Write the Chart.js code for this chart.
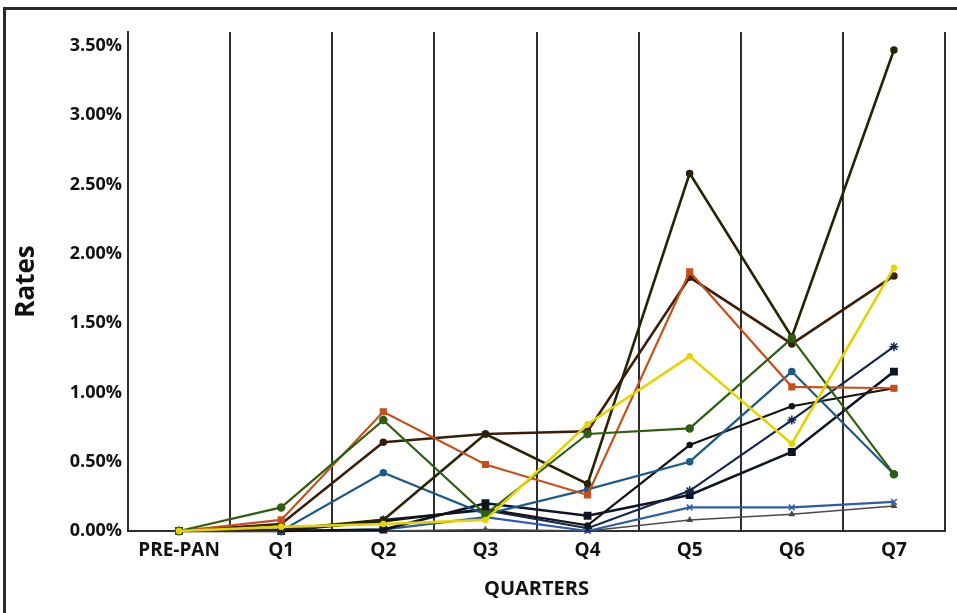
<!DOCTYPE html>
<html>
<head>
<meta charset="utf-8">
<script src="https://cdn.jsdelivr.net/npm/chart.js@4.4.1/dist/chart.umd.min.js"></script>
<style>
  html, body { margin: 0; padding: 0; background: #fff; overflow: hidden; }
  #frame { position: absolute; left: 3px; top: 7px; width: 1000px; height: 700px; border: 3px solid #2a2a2a; }
  #wrap { position: absolute; left: 0; top: 0; width: 957px; height: 613px; }
</style>
</head>
<body>
<div id="frame"></div>
<div id="wrap"><canvas id="chart"></canvas></div>
<script>
// quarters along the x axis
var QUARTERS = ['PRE-PAN', 'Q1', 'Q2', 'Q3', 'Q4', 'Q5', 'Q6', 'Q7'];
var Y_TICKS = [0, 0.5, 1, 1.5, 2, 2.5, 3, 3.5];

// rates in percent
var GREEN     = [0, 0.17, 0.80, 0.12, 0.70, 0.74, 1.39, 0.41];
var ORANGE    = [0, 0.08, 0.86, 0.48, 0.26, 1.87, 1.04, 1.03];
var OLIVE     = [0, 0.01, 0.08, 0.70, 0.34, 2.58, 1.40, 3.47];
var BROWN     = [0, 0.05, 0.64, 0.70, 0.72, 1.83, 1.35, 1.84];
var YELLOW    = [0, 0.03, 0.05, 0.08, 0.77, 1.26, 0.63, 1.90];
var TEAL      = [0, 0.00, 0.42, 0.12, 0.30, 0.50, 1.15, 0.41];
var NAVY_SQ   = [0, 0.00, 0.01, 0.20, 0.11, 0.26, 0.57, 1.15];
var NAVY_STAR = [0, 0.00, 0.08, 0.15, 0.02, 0.29, 0.80, 1.33];
var BLACK     = [0, 0.00, 0.07, 0.16, 0.04, 0.62, 0.90, 1.03];
var BLUE      = [0, 0.00, 0.01, 0.10, 0.00, 0.17, 0.17, 0.21];
var GREY      = [0, 0.00, 0.00, 0.01, 0.00, 0.08, 0.12, 0.18];

var FONT = "'Open Sans', 'DejaVu Sans', sans-serif";

function line(label, data, color, style, radius, width) {
    return {
        label: label,
        data: data,
        borderColor: color,
        backgroundColor: color,
        borderWidth: width || 2.2,
        pointStyle: style || 'circle',
        pointRadius: radius || 3,
        pointBorderWidth: 1.5,
        tension: 0,
        clip: false
    };
}

new Chart(document.getElementById('chart').getContext('2d'), {
    type: 'line',
    data: {
        labels: QUARTERS,
        datasets: [
            line('Yellow', YELLOW, '#e3d400', 'circle', 2.5, 2.6),
            line('Green', GREEN, '#2f5e12', 'circle', 3.5),
            line('Orange', ORANGE, '#c4511c', 'rect', 4),
            line('Olive', OLIVE, '#2a2205', 'circle', 3, 2.6),
            line('Brown', BROWN, '#3b1e08', 'circle', 3, 2.6),
            line('Teal', TEAL, '#1d5a86', 'circle', 3),
            line('Black', BLACK, '#141414', 'circle', 2.5),
            line('Navy star', NAVY_STAR, '#14264d', 'star', 4.5),
            line('Navy square', NAVY_SQ, '#0c1426', 'rect', 4.5, 2.6),
            line('Blue', BLUE, '#2f5aa8', 'crossRot', 4),
            line('Grey', GREY, '#4a4a4a', 'triangle', 2.5, 1.5)
        ]
    },
    options: {
        responsive: true,
        maintainAspectRatio: false,
        animation: false,
        layout: { padding: { top: 32, right: 12, bottom: 0, left: 0 } },
        plugins: {
            legend: { display: false },
            tooltip: { enabled: false }
        },
        scales: {
            x: {
                type: 'category',
                offset: true,
                grid: { display: true, offset: true, color: '#2e2e2e', lineWidth: 2, drawTicks: false },
                border: { display: true, color: '#2e2e2e', width: 2 },
                ticks: { color: '#111', padding: 8, font: { family: FONT, size: 19, weight: 'bold' } },
                title: {
                    display: true, text: 'QUARTERS', color: '#111',
                    font: { family: FONT, size: 20, weight: 'bold' },
                    padding: { top: 0, bottom: 12 }
                },
                afterFit: function (s) { s.height = 82; }
            },
            y: {
                min: 0,
                max: 3.6,
                afterBuildTicks: function (s) { s.ticks = Y_TICKS.map(function (v) { return { value: v }; }); },
                grid: { display: false, drawTicks: false },
                border: { display: true, color: '#2e2e2e', width: 2 },
                ticks: {
                    color: '#111', padding: 6,
                    font: { family: FONT, size: 18, weight: 'bold' },
                    callback: function (v) { return v.toFixed(2) + '%'; }
                },
                title: {
                    display: true, text: 'Rates', color: '#111',
                    font: { family: FONT, size: 26, weight: 'bold' },
                    padding: { top: 11, bottom: 0 }
                },
                afterFit: function (s) { s.width = 128; }
            }
        }
    }
});
</script>
</body>
</html>
